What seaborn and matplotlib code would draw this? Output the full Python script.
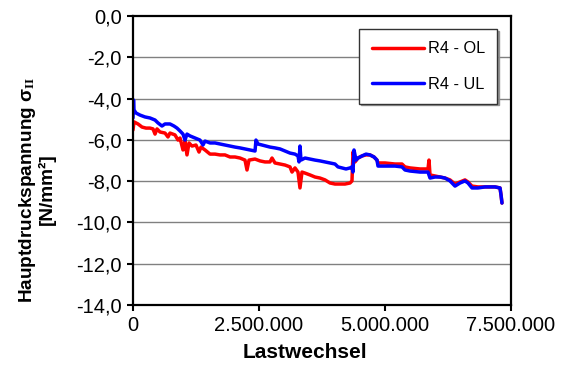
import matplotlib
matplotlib.use("Agg")
import matplotlib.pyplot as plt
from matplotlib.ticker import FuncFormatter, MultipleLocator
import seaborn as sns
import pandas as pd

# Measured principal compressive stress over load cycles
ol_cycles = [0, 20000, 99000, 179000, 258000, 337000, 397000, 437000, 476000, 536000,
             635000, 694000, 734000, 833000, 893000, 933000, 992000, 1032000, 1071000, 1111000,
             1171000, 1250000, 1310000, 1349000, 1429000, 1528000, 1627000, 1726000, 1825000, 1925000,
             2024000, 2123000, 2222000, 2262000, 2302000, 2421000, 2520000, 2619000, 2718000, 2758000,
             2817000, 2917000, 3016000, 3115000, 3155000, 3214000, 3274000, 3313000, 3353000, 3413000,
             3512000, 3611000, 3710000, 3810000, 3909000, 4008000, 4107000, 4206000, 4306000, 4345000,
             4365000, 4405000, 4464000, 4544000, 4623000, 4702000, 4782000, 4841000, 4861000, 5000000,
             5198000, 5337000, 5397000, 5496000, 5694000, 5853000, 5873000, 5893000, 5992000, 6091000,
             6190000, 6290000, 6389000, 6488000, 6587000, 6647000, 6726000, 6845000, 6984000, 7183000,
             7282000, 7302000, 7321000]
ol_stress = [-5.52, -5.13, -5.23, -5.38, -5.43, -5.43, -5.47, -5.72, -5.47, -5.62,
             -5.67, -5.86, -5.67, -5.76, -6.01, -5.91, -6.49, -6.06, -6.73, -6.15,
             -6.30, -6.25, -6.59, -6.35, -6.49, -6.69, -6.69, -6.73, -6.73, -6.83,
             -6.83, -6.88, -6.98, -7.46, -6.98, -6.93, -7.02, -7.07, -7.07, -6.88,
             -7.12, -7.17, -7.22, -7.31, -7.56, -7.36, -7.56, -8.33, -7.56, -7.61,
             -7.70, -7.80, -7.85, -7.94, -8.09, -8.14, -8.14, -8.14, -8.09, -7.99,
             -6.59, -7.07, -6.88, -6.78, -6.73, -6.73, -6.83, -6.98, -7.12, -7.12,
             -7.17, -7.17, -7.31, -7.36, -7.41, -7.41, -6.98, -7.70, -7.75, -7.80,
             -7.85, -7.94, -8.14, -8.04, -7.94, -8.04, -8.24, -8.28, -8.28, -8.28,
             -8.33, -8.67, -9.06]

ul_cycles = [0, 10000, 20000, 60000, 139000, 238000, 337000, 437000, 496000, 575000,
             635000, 734000, 813000, 873000, 933000, 992000, 1032000, 1071000, 1131000, 1230000,
             1329000, 1389000, 1429000, 1528000, 1627000, 1726000, 1825000, 1925000, 2024000, 2123000,
             2222000, 2321000, 2421000, 2440000, 2480000, 2560000, 2639000, 2718000, 2817000, 2917000,
             3016000, 3115000, 3214000, 3274000, 3294000, 3313000, 3333000, 3413000, 3512000, 3611000,
             3710000, 3810000, 3909000, 4008000, 4067000, 4147000, 4226000, 4306000, 4345000, 4365000,
             4385000, 4425000, 4464000, 4544000, 4623000, 4702000, 4782000, 4841000, 4861000, 5000000,
             5198000, 5337000, 5397000, 5496000, 5694000, 5853000, 5893000, 5992000, 6091000, 6190000,
             6290000, 6389000, 6488000, 6587000, 6647000, 6726000, 6845000, 6984000, 7183000, 7282000,
             7302000, 7321000]
ul_stress = [-4.94, -4.07, -4.55, -4.70, -4.80, -4.89, -4.94, -5.04, -5.18, -5.33,
             -5.23, -5.23, -5.33, -5.43, -5.57, -5.72, -6.01, -5.72, -5.81, -5.91,
             -6.01, -6.25, -6.06, -6.15, -6.15, -6.20, -6.25, -6.30, -6.35, -6.39,
             -6.44, -6.49, -6.54, -6.01, -6.20, -6.25, -6.30, -6.35, -6.39, -6.44,
             -6.54, -6.64, -6.69, -6.78, -7.07, -6.30, -6.98, -6.88, -6.93, -6.98,
             -7.02, -7.07, -7.12, -7.17, -7.31, -7.36, -7.41, -7.36, -7.31, -7.56,
             -6.49, -6.98, -6.88, -6.78, -6.69, -6.73, -6.83, -6.98, -7.27, -7.27,
             -7.27, -7.31, -7.46, -7.51, -7.56, -7.56, -7.85, -7.80, -7.80, -7.85,
             -7.99, -8.24, -8.09, -7.99, -8.09, -8.33, -8.33, -8.28, -8.28, -8.33,
             -8.67, -9.06]

series_names = ["R4 - OL", "R4 - UL"]
series_colors = ["#ff0000", "#0000ff"]
x_ticks = [0, 2500000, 5000000, 7500000]

sns.set_style("white")
plt.rcParams["font.family"] = ["Liberation Sans", "DejaVu Sans"]
plt.rcParams["mathtext.fontset"] = "custom"
plt.rcParams["mathtext.rm"] = "Liberation Serif"
plt.rcParams["mathtext.it"] = "Liberation Serif:italic"
plt.rcParams["mathtext.bf"] = "Liberation Serif:bold"

df = pd.concat([
    pd.DataFrame({"Lastwechsel": ol_cycles, "Spannung": ol_stress, "Serie": series_names[0]}),
    pd.DataFrame({"Lastwechsel": ul_cycles, "Spannung": ul_stress, "Serie": series_names[1]}),
], ignore_index=True)

fig = plt.figure(figsize=(5.69, 3.76), dpi=100)
ax = fig.add_axes([133 / 569, 1 - 305 / 376, 378 / 569, 289 / 376])

for name, color in zip(series_names, series_colors):
    sub = df[df["Serie"] == name]
    sns.lineplot(data=sub, x="Lastwechsel", y="Spannung", ax=ax, color=color,
                 linewidth=2.5, estimator=None, sort=False, label=name)

ax.set_xlim(0, 7500000)
ax.set_ylim(-14, 0)
ax.set_xticks(x_ticks)
ax.yaxis.set_major_locator(MultipleLocator(2))
ax.xaxis.set_major_formatter(FuncFormatter(lambda v, p: f"{int(round(v)):,}".replace(",", ".")))
ax.yaxis.set_major_formatter(FuncFormatter(lambda v, p: f"{v:.1f}".replace(".", ",")))

ax.grid(False)
for yv in range(-12, 0, 2):
    ax.axhline(yv, color="#808080", linewidth=1.0, zorder=0)

for side in ["left", "right", "top", "bottom"]:
    ax.spines[side].set_visible(True)
    ax.spines[side].set_color("black")
    ax.spines[side].set_linewidth(1.6)

ax.tick_params(axis="y", direction="out", length=4, width=1.5, color="black",
               labelsize=14.5, pad=4, left=True, labelcolor="black")
ax.tick_params(axis="x", direction="out", length=4, width=1.5, color="black",
               labelsize=14.5, pad=4, bottom=True, labelcolor="black")

ax.set_xlabel("Lastwechsel", fontsize=15, fontweight="bold", color="black")
ax.set_ylabel("Hauptdruckspannung σ$_{\\mathbf{II}}$\n[N/mm²]", fontsize=13.7,
              fontweight="bold", linespacing=0.95, color="black")
ax.xaxis.set_label_coords(0.456, -0.13)
ax.yaxis.set_label_coords(-0.205, 0.40)

leg = ax.legend(loc="upper right", bbox_to_anchor=(0.963, 0.955), borderaxespad=0,
                fontsize=11.7, frameon=True, fancybox=False, handlelength=3.2,
                handletextpad=0.25, labelspacing=1.25, borderpad=0.75,
                shadow={"color": "0.55", "alpha": 0.9, "ox": 1.2, "oy": -1.2})
leg.get_frame().set_edgecolor("#333333")
leg.get_frame().set_linewidth(1.0)
for line in leg.get_lines():
    line.set_linewidth(2.5)
for t in leg.get_texts():
    t.set_color("black")

fig.savefig("out.png", dpi=100)
